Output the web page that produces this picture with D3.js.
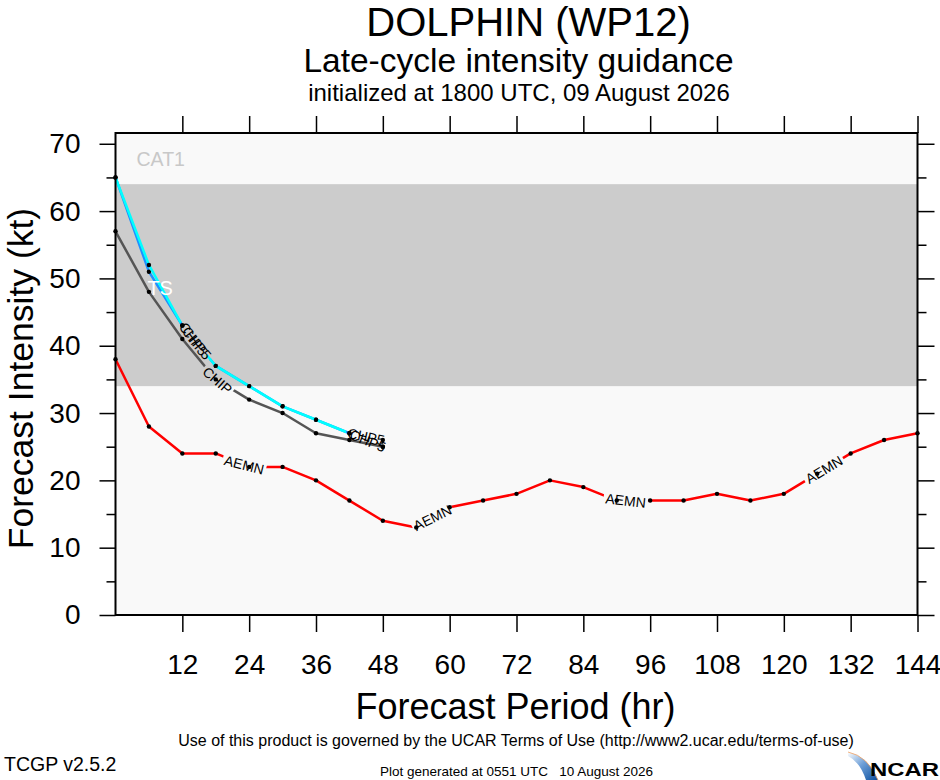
<!DOCTYPE html>
<html lang="en">
<head>
    <meta charset="UTF-8">
    <title>DOLPHIN (WP12) late-cycle intensity guidance</title>
    <script src="https://d3js.org/d3.v7.min.js"></script>
    <style>
        body {
            margin: 0;
            background-color: #ffffff;
        }
        svg text {
            font-family: "Liberation Sans", Arial, Helvetica, sans-serif;
        }
    </style>
</head>
<body>
    <svg id="chart" width="940" height="780"></svg>
    <script>
        // forecast hours and model intensities (kt)
        const hours = [0, 6, 12, 18, 24, 30, 36, 42, 48, 54, 60, 66, 72, 78, 84, 90, 96, 102, 108, 114, 120, 126, 132, 138, 144];
        const aemn = [38, 28, 24, 24, 22, 22, 20, 17, 14, 13, 16, 17, 18, 20, 19, 17, 17, 17, 18, 17, 18, 21, 24, 26, 27];
        const chip = [57, 48, 41, 35, 32, 30, 27, 26, 25];
        const chp5b = [65, 51, 43, 37, 34, 31, 29, 27, 25];
        const chp5 = [65, 52, 43, 37, 34, 31, 29, 27, 26];

        const xTicks = [12, 24, 36, 48, 60, 72, 84, 96, 108, 120, 132, 144];
        const yTicks = [0, 10, 20, 30, 40, 50, 60, 70];
        const yMinor = [5, 15, 25, 35, 45, 55, 65];

        // intensity bands
        const tsBand = [34, 64];

        const series = [
            { name: 'AEMN', values: aemn, color: '#ff0000', labels: [23.1, 56.9, 91.6, 127.2] },
            { name: 'CHIP', values: chip, color: '#555555', labels: [18.3] },
            { name: 'CHP5', values: chp5b, color: '#1e90ff', labels: [14.6, 45.3] },
            { name: 'CHP5', values: chp5, color: '#00ffff', labels: [14, 45] }
        ];

        const svg = d3.select('#chart');

        const x = d3.scaleLinear().domain([0, 144]).range([115.5, 917.5]);
        const y = d3.scaleLinear().domain([0, 71.6]).range([615, 133]);

        // plot background and TS band
        svg.append('rect')
            .attr('x', x(0)).attr('y', y(71.6))
            .attr('width', x(144) - x(0)).attr('height', y(0) - y(71.6))
            .attr('fill', '#f9f9f9');
        svg.append('rect')
            .attr('x', x(0)).attr('y', y(tsBand[1]))
            .attr('width', x(144) - x(0)).attr('height', y(tsBand[0]) - y(tsBand[1]))
            .attr('fill', '#cccccc');

        svg.append('text')
            .attr('x', x(0) + 21).attr('y', y(tsBand[1]) - 18)
            .attr('font-size', 19.5).attr('fill', '#c8c8c8')
            .text('CAT1');

        // axes
        function styleAxis(g) {
            g.select('.domain').remove();
            g.selectAll('line').attr('stroke', '#000').attr('stroke-width', 1.5);
            g.selectAll('text').attr('font-size', 28).attr('fill', '#000');
        }

        svg.append('g')
            .attr('transform', `translate(0,${y(0)})`)
            .call(d3.axisBottom(x).tickValues(xTicks).tickSize(17).tickPadding(22).tickFormat(d3.format('d')))
            .call(styleAxis);
        svg.append('g')
            .attr('transform', `translate(0,${y(71.6)})`)
            .call(d3.axisTop(x).tickValues(xTicks).tickSize(17).tickFormat(''))
            .call(styleAxis);
        svg.append('g')
            .attr('transform', `translate(${x(0)},0)`)
            .call(d3.axisLeft(y).tickValues(yTicks).tickSize(16).tickPadding(19).tickFormat(d3.format('d')))
            .call(styleAxis);
        svg.append('g')
            .attr('transform', `translate(${x(0)},0)`)
            .call(d3.axisLeft(y).tickValues(yMinor).tickSize(9).tickFormat(''))
            .call(styleAxis);
        svg.append('g')
            .attr('transform', `translate(${x(144)},0)`)
            .call(d3.axisRight(y).tickValues(yTicks).tickSize(17).tickFormat(''))
            .call(styleAxis);
        svg.append('g')
            .attr('transform', `translate(${x(144)},0)`)
            .call(d3.axisRight(y).tickValues(yMinor).tickSize(9).tickFormat(''))
            .call(styleAxis);

        // model lines with labels cut into them
        const defs = svg.append('defs');
        const lineGen = d3.line().x(d => x(d[0])).y(d => y(d[1]));
        const labelLayer = svg.append('g');
        const pxPerHour = x(1) - x(0);

        series.forEach((s, i) => {
            const pts = s.values.map((v, j) => [hours[j], v]);
            const interp = d3.scaleLinear().domain(hours.slice(0, s.values.length)).range(s.values).clamp(true);
            const hMax = hours[s.values.length - 1];

            const mask = defs.append('mask')
                .attr('id', 'gap' + i)
                .attr('maskUnits', 'userSpaceOnUse')
                .attr('x', 0).attr('y', 0).attr('width', 940).attr('height', 780);
            mask.append('rect').attr('width', 940).attr('height', 780).attr('fill', '#fff');

            s.labels.forEach(h => {
                const t = labelLayer.append('text')
                    .attr('font-size', 14)
                    .attr('text-anchor', 'middle')
                    .attr('dy', '0.36em')
                    .attr('fill', '#000')
                    .text(s.name);
                const w = t.node().getComputedTextLength();
                const dh = (w / 2) / pxPerHour;
                const h0 = Math.max(0, h - dh), h1 = Math.min(hMax, h + dh);
                const ang = Math.atan2(y(interp(h1)) - y(interp(h0)), x(h1) - x(h0)) * 180 / Math.PI;
                const cx = x(h), cy = y(interp(h));
                t.attr('transform', `translate(${cx},${cy}) rotate(${ang})`);
                mask.append('rect')
                    .attr('x', -w / 2 - 2).attr('y', -7.5)
                    .attr('width', w + 4).attr('height', 15)
                    .attr('fill', '#000')
                    .attr('transform', `translate(${cx},${cy}) rotate(${ang})`);
            });

            const g = svg.insert('g', () => labelLayer.node());
            g.append('path')
                .datum(pts)
                .attr('fill', 'none')
                .attr('stroke', s.color)
                .attr('stroke-width', 2.5)
                .attr('stroke-linejoin', 'round')
                .attr('mask', `url(#gap${i})`)
                .attr('d', lineGen);
            g.selectAll('circle')
                .data(pts)
                .join('circle')
                .attr('cx', d => x(d[0]))
                .attr('cy', d => y(d[1]))
                .attr('r', 2.2)
                .attr('fill', '#000');
        });

        // TS band label sits above the lines
        labelLayer.append('text')
            .attr('x', x(6) - 1.5).attr('y', y(47.6))
            .attr('font-size', 20).attr('fill', '#ffffff')
            .text('TS');

        // plot frame
        svg.append('rect')
            .attr('x', x(0)).attr('y', y(71.6))
            .attr('width', x(144) - x(0)).attr('height', y(0) - y(71.6))
            .attr('fill', 'none').attr('stroke', '#000').attr('stroke-width', 2);

        // titles
        svg.append('text').attr('x', 528.5).attr('y', 36).attr('text-anchor', 'middle')
            .attr('font-size', 40).text('DOLPHIN (WP12)');
        svg.append('text').attr('x', 518.5).attr('y', 72).attr('text-anchor', 'middle')
            .attr('font-size', 33.5).text('Late-cycle intensity guidance');
        svg.append('text').attr('x', 519).attr('y', 101).attr('text-anchor', 'middle')
            .attr('font-size', 24).text('initialized at 1800 UTC, 09 August 2026');

        svg.append('text').attr('x', 515.5).attr('y', 719).attr('text-anchor', 'middle')
            .attr('font-size', 36).text('Forecast Period (hr)');
        svg.append('text').attr('transform', 'translate(33,378.5) rotate(-90)').attr('text-anchor', 'middle')
            .attr('font-size', 35.5).text('Forecast Intensity (kt)');

        // footer
        svg.append('text').attr('x', 516).attr('y', 746).attr('text-anchor', 'middle')
            .attr('font-size', 16).text('Use of this product is governed by the UCAR Terms of Use (http://www2.ucar.edu/terms-of-use)');
        svg.append('text').attr('x', 516.5).attr('y', 776).attr('text-anchor', 'middle')
            .attr('font-size', 13.5).style('white-space', 'pre').text('Plot generated at 0551 UTC   10 August 2026');
        svg.append('text').attr('x', 4).attr('y', 771)
            .attr('font-size', 19.5).text('TCGP v2.5.2');

        // NCAR logo
        const grad = defs.append('linearGradient').attr('id', 'swoosh')
            .attr('x1', '0%').attr('y1', '0%').attr('x2', '100%').attr('y2', '100%');
        grad.append('stop').attr('offset', '0%').attr('stop-color', '#ffffff');
        grad.append('stop').attr('offset', '45%').attr('stop-color', '#6fa0d8');
        grad.append('stop').attr('offset', '100%').attr('stop-color', '#0b4f9e');
        svg.append('path')
            .attr('d', 'M 848 752 Q 868 756 878 780 L 866 780 Q 860 762 848 756 Z')
            .attr('fill', 'url(#swoosh)');
        svg.append('path')
            .attr('d', 'M 848 752 Q 868 756 878 780')
            .attr('fill', 'none').attr('stroke', '#f0a060').attr('stroke-width', 0.8);
        svg.append('text').attr('x', 870).attr('y', 776)
            .attr('font-size', 19).attr('font-weight', 'bold')
            .attr('textLength', 69).attr('lengthAdjust', 'spacingAndGlyphs')
            .text('NCAR');
    </script>
</body>
</html>
